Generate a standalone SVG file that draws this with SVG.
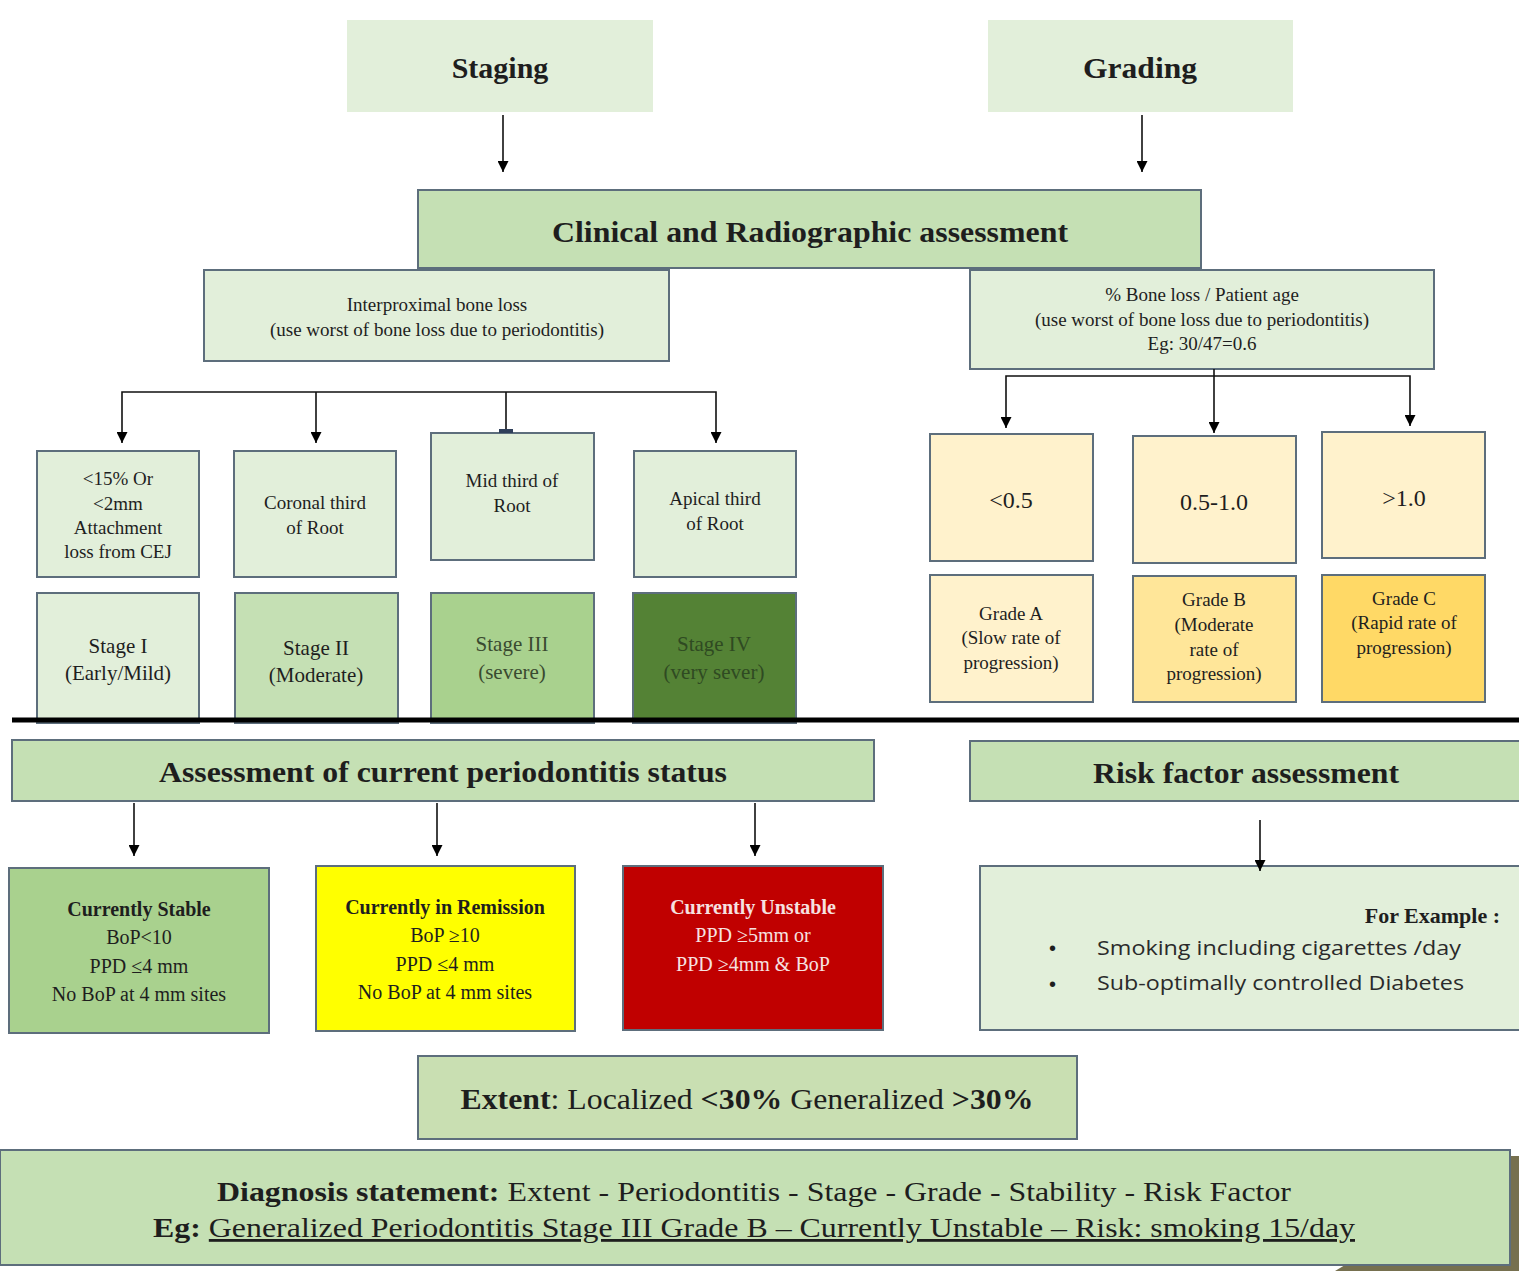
<svg xmlns="http://www.w3.org/2000/svg" width="1519" height="1271" viewBox="0 0 1519 1271">
<defs>
<marker id="ah" viewBox="0 0 10 10" refX="10" refY="5" markerWidth="12" markerHeight="11" markerUnits="userSpaceOnUse" orient="auto-start-reverse">
<path d="M0,0 L10,5 L0,10 Z" fill="#000"/>
</marker>
<style>
.b{stroke:#5d6e7c;stroke-width:2}
.lg{fill:#e2efda}.mg{fill:#c5e0b4}.dg{fill:#a9d18e}.vg{fill:#548235}
.y1{fill:#fff2cc}.y2{fill:#ffe699}.y3{fill:#ffd966}
.t{font-family:"Liberation Serif","Times New Roman",serif;fill:#1e1e1e;text-anchor:middle}
.h{font-weight:bold;font-size:30px}
.s{font-size:19px}
.m{font-size:21px}
.c{stroke:#111;stroke-width:1.6;fill:none}
</style>
</defs>
<rect width="1519" height="1271" fill="#fff"/>

<g id="staging"><rect x="347" y="20" width="306" height="92" class="lg"/><text class="t h" x="500" y="78">Staging</text></g>
<g id="grading"><rect x="988" y="20" width="305" height="92" class="lg"/><text class="t h" x="1140" y="78" textLength="114" lengthAdjust="spacingAndGlyphs">Grading</text></g>
<g id="clinical"><rect x="418" y="190" width="783" height="78" class="mg b"/><text class="t h" x="810" y="242" textLength="516" lengthAdjust="spacingAndGlyphs">Clinical and Radiographic assessment</text></g>
<g id="interproximal"><rect x="204" y="270" width="465" height="91" class="lg b"/><text class="t s"><tspan x="437" y="311">Interproximal bone loss</tspan><tspan x="437" y="336">(use worst of bone loss due to periodontitis)</tspan></text></g>
<g id="boneloss"><rect x="970" y="270" width="464" height="99" class="lg b"/><text class="t s"><tspan x="1202" y="301">% Bone loss / Patient age</tspan><tspan x="1202" y="326">(use worst of bone loss due to periodontitis)</tspan><tspan x="1202" y="350">Eg: 30/47=0.6</tspan></text></g>

<g id="crit1"><rect x="37" y="451" width="162" height="126" class="lg b"/><text class="t s"><tspan x="118" y="485">&lt;15% Or</tspan><tspan x="118" y="510">&lt;2mm</tspan><tspan x="118" y="534">Attachment</tspan><tspan x="118" y="558">loss from CEJ</tspan></text></g>
<g id="crit2"><rect x="234" y="451" width="162" height="126" class="lg b"/><text class="t s"><tspan x="315" y="509">Coronal third</tspan><tspan x="315" y="534">of Root</tspan></text></g>
<g id="crit3"><rect x="431" y="433" width="163" height="127" class="lg b"/><text class="t s"><tspan x="512" y="487">Mid third of</tspan><tspan x="512" y="512">Root</tspan></text></g>
<g id="crit4"><rect x="634" y="451" width="162" height="126" class="lg b"/><text class="t s"><tspan x="715" y="505">Apical third</tspan><tspan x="715" y="530">of Root</tspan></text></g>

<g id="stage1"><rect x="37" y="593" width="162" height="130" class="lg b"/><text class="t m"><tspan x="118" y="653">Stage I</tspan><tspan x="118" y="680">(Early/Mild)</tspan></text></g>
<g id="stage2"><rect x="235" y="593" width="163" height="130" class="mg b"/><text class="t m"><tspan x="316" y="655">Stage II</tspan><tspan x="316" y="682">(Moderate)</tspan></text></g>
<g id="stage3"><rect x="431" y="593" width="163" height="130" class="dg b"/><text class="t m" style="fill:#3a4a30"><tspan x="512" y="651">Stage III</tspan><tspan x="512" y="679">(severe)</tspan></text></g>
<g id="stage4"><rect x="633" y="593" width="163" height="130" class="vg b"/><text class="t m" style="fill:#2f4a22"><tspan x="714" y="651">Stage IV</tspan><tspan x="714" y="679">(very sever)</tspan></text></g>

<g id="range1"><rect x="930" y="434" width="163" height="127" class="y1 b"/><text class="t" style="font-size:24px" x="1011" y="508">&lt;0.5</text></g>
<g id="range2"><rect x="1133" y="436" width="163" height="127" class="y1 b"/><text class="t" style="font-size:24px" x="1214" y="510">0.5-1.0</text></g>
<g id="range3"><rect x="1322" y="432" width="163" height="126" class="y1 b"/><text class="t" style="font-size:24px" x="1404" y="506">&gt;1.0</text></g>
<g id="gradeA"><rect x="930" y="575" width="163" height="127" class="y1 b"/><text class="t s"><tspan x="1011" y="620">Grade A</tspan><tspan x="1011" y="644">(Slow rate of</tspan><tspan x="1011" y="669">progression)</tspan></text></g>
<g id="gradeB"><rect x="1133" y="576" width="163" height="126" class="y2 b"/><text class="t s"><tspan x="1214" y="606">Grade B</tspan><tspan x="1214" y="631">(Moderate</tspan><tspan x="1214" y="656">rate of</tspan><tspan x="1214" y="680">progression)</tspan></text></g>
<g id="gradeC"><rect x="1322" y="575" width="163" height="127" class="y3 b"/><text class="t s"><tspan x="1404" y="605">Grade C</tspan><tspan x="1404" y="629">(Rapid rate of</tspan><tspan x="1404" y="654">progression)</tspan></text></g>

<g id="divider"><line x1="12" y1="720" x2="1519" y2="720" stroke="#000" stroke-width="5"/></g>

<g id="status"><rect x="12" y="740" width="862" height="61" class="mg b"/><text class="t" style="font-weight:bold;font-size:29px" x="443" y="782" textLength="568" lengthAdjust="spacingAndGlyphs">Assessment of current periodontitis status</text></g>
<g id="risk"><rect x="970" y="741" width="560" height="60" class="mg b"/><text class="t" style="font-weight:bold;font-size:29px" x="1246" y="783" textLength="306" lengthAdjust="spacingAndGlyphs">Risk factor assessment</text></g>

<g id="stable"><rect x="9" y="868" width="260" height="165" class="dg b"/><text class="t" style="font-size:20px"><tspan x="139" y="916" font-weight="bold">Currently Stable</tspan><tspan x="139" y="944">BoP&lt;10</tspan><tspan x="139" y="973">PPD ≤4 mm</tspan><tspan x="139" y="1001">No BoP at 4 mm sites</tspan></text></g>
<g id="remission"><rect x="316" y="866" width="259" height="165" fill="#ffff00" class="b"/><text class="t" style="font-size:20px"><tspan x="445" y="914" font-weight="bold">Currently in Remission</tspan><tspan x="445" y="942">BoP ≥10</tspan><tspan x="445" y="971">PPD ≤4 mm</tspan><tspan x="445" y="999">No BoP at 4 mm sites</tspan></text></g>
<g id="unstable"><rect x="623" y="866" width="260" height="164" fill="#c00000" class="b"/><text class="t" style="font-size:20px;fill:#f6e2e0"><tspan x="753" y="914" font-weight="bold">Currently Unstable</tspan><tspan x="753" y="942">PPD ≥5mm or</tspan><tspan x="753" y="971">PPD ≥4mm &amp; BoP</tspan></text></g>
<g id="example"><rect x="980" y="866" width="550" height="164" class="lg b"/>
<text class="t" style="font-weight:bold;font-size:22px;text-anchor:end" x="1500" y="923">For Example :</text>
<text style="font-family:'Liberation Sans',sans-serif;font-size:20px;fill:#1e1e1e" x="1049" y="955">•</text>
<text style="font-family:'Liberation Sans',sans-serif;font-size:20px;fill:#1e1e1e" x="1049" y="991">•</text>
<text style="font-family:'Open Sans',sans-serif;font-size:20px;fill:#2a2a2a" x="1097" y="955" textLength="364" lengthAdjust="spacingAndGlyphs">Smoking including cigarettes /day</text>
<text style="font-family:'Open Sans',sans-serif;font-size:20px;fill:#2a2a2a" x="1097" y="990" textLength="367" lengthAdjust="spacingAndGlyphs">Sub-optimally controlled Diabetes</text>
</g>

<g id="extent"><rect x="418" y="1056" width="659" height="83" fill="#c9dfb2" class="b"/><text class="t" style="font-size:29px" x="747" y="1109" textLength="573" lengthAdjust="spacingAndGlyphs"><tspan font-weight="bold">Extent</tspan>: Localized <tspan font-weight="bold">&lt;30%</tspan> Generalized <tspan font-weight="bold">&gt;30%</tspan></text></g>

<g id="diagnosis">
<path d="M1510,1156 H1519 V1271 H1335 L1345,1265 H1510 Z" fill="#76704f"/>
<rect x="0" y="1150" width="1510" height="115" class="mg b"/>
<text class="t" style="font-size:28px" x="754" y="1201" textLength="1074" lengthAdjust="spacingAndGlyphs"><tspan font-weight="bold">Diagnosis statement:</tspan> Extent - Periodontitis - Stage - Grade - Stability - Risk Factor</text>
<text class="t" style="font-size:28px" x="754" y="1237" textLength="1202" lengthAdjust="spacingAndGlyphs"><tspan font-weight="bold">Eg:</tspan> <tspan text-decoration="underline">Generalized Periodontitis Stage III Grade B – Currently Unstable – Risk: smoking 15/day</tspan></text>
</g>

<g id="connectors">
<path class="c" d="M503,115 V172" marker-end="url(#ah)"/>
<path class="c" d="M1142,115 V172" marker-end="url(#ah)"/>
<path class="c" d="M122,443 V392 H716 V443" marker-start="url(#ah)" marker-end="url(#ah)"/>
<path class="c" d="M316,392 V443" marker-end="url(#ah)"/>
<path class="c" d="M506,392 V432"/>
<rect x="499" y="429" width="14" height="4" fill="#2f3f5a"/>
<path class="c" d="M1006,428 V376 H1410 V426" marker-start="url(#ah)" marker-end="url(#ah)"/>
<path class="c" d="M1214,369 V433" marker-end="url(#ah)"/>
<path class="c" d="M134,803 V856" marker-end="url(#ah)"/>
<path class="c" d="M437,803 V856" marker-end="url(#ah)"/>
<path class="c" d="M755,803 V856" marker-end="url(#ah)"/>
<path class="c" d="M1260,820 V871" marker-end="url(#ah)"/>
</g>
</svg>
